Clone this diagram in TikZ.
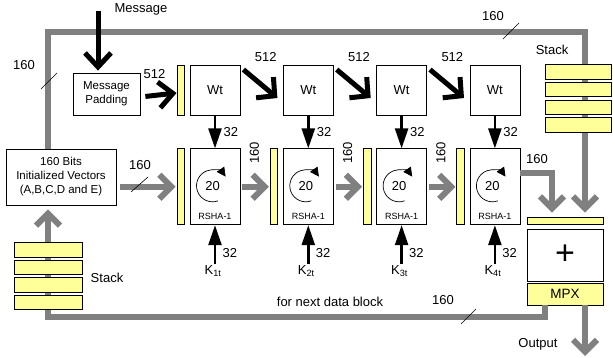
\documentclass[tikz,border=0pt]{standalone}
\usepackage{fontspec}
\setmainfont{Liberation Sans}
\usetikzlibrary{positioning, arrows.meta, calc}
\definecolor{padyellow}{HTML}{FFFF99}
\definecolor{busgray}{HTML}{808080}

\begin{document}
\begin{tikzpicture}[
  x=1pt, y=1pt,
  font=\fontsize{13}{15}\selectfont,
  box/.style={draw, line width=0.8pt, fill=white, minimum width=50pt, minimum height=50pt, inner sep=0pt},
  rsha/.style={box, minimum height=76pt},
  ybar/.style={draw, line width=0.8pt, fill=padyellow, minimum width=7.5pt, minimum height=76pt, inner sep=0pt},
  slot/.style={draw, line width=0.8pt, fill=padyellow, minimum height=14.5pt, inner sep=0pt},
  bus/.style={draw=busgray, line width=6pt},
  busarrow/.style={bus, -{Straight Barb[sharp, length=12pt, width=24pt]}},
  fat/.style={line width=5pt, -{Straight Barb[sharp, length=14pt, width=26pt]}},
  fatdiag/.style={line width=5pt, -{Straight Barb[sharp, length=13pt, width=27pt]}},
  thin/.style={line width=2.5pt, -{Triangle[length=20pt, width=13pt]}},
  tick/.style={line width=0.6pt}
]
\useasboundingbox (0,0) rectangle (613,-358);

% --- padding and the four Wt boxes ---
\node[box, minimum width=67pt, minimum height=42pt, align=center, font=\fontsize{11.5}{14}\selectfont] (pad) at (106.5,-94) {Message\\Padding};
\node[box] (wt1) at (215,-90) {Wt};
\node[box, right=42.5pt of wt1] (wt2) {Wt};
\node[box, right=42.5pt of wt2] (wt3) {Wt};
\node[box, right=42.5pt of wt3] (wt4) {Wt};
\node[ybar, minimum height=50pt, left=4.75pt of wt1] (bar0) {};

% --- RSHA-1 rounds, each with its yellow register ---
\node[rsha, below=33pt of wt1] (r1) {};
\node[rsha, below=33pt of wt2] (r2) {};
\node[rsha, below=33pt of wt3] (r3) {};
\node[rsha, below=33pt of wt4] (r4) {};
\node[ybar, left=4.75pt of r1] (rb1) {};
\node[ybar, left=4.75pt of r2] (rb2) {};
\node[ybar, left=4.75pt of r3] (rb3) {};
\node[ybar, left=4.75pt of r4] (rb4) {};

% --- init vectors, adder and MPX ---
\node[box, minimum width=110pt, minimum height=56pt, align=center, font=\fontsize{11.5}{14}\selectfont] (init) at (61,-177) {160 Bits\\Initialized Vectors\\(A,B,C,D and E)};
\node[ybar, minimum width=76pt, minimum height=7pt] (sumbar) at (565,-220.5) {};
\node[box, minimum width=76pt, minimum height=52pt, font=\fontsize{34}{34}\selectfont] (add) at (565,-255) {+};
\node[ybar, minimum width=76pt, minimum height=22pt, font=\fontsize{13.5}{15}\selectfont] (mpx) at (565,-294) {MPX};

% gray 160-bit buses
\coordinate (topL) at (48,-32);
\coordinate (topR) at (585,-32);
\coordinate (botL) at (48,-317);
\coordinate (outE) at (585,-356);
\draw[busarrow, shorten >=4pt] (topL |- init.north) -- (topL) -- (topR) -- (topR |- sumbar.north);
\draw[busarrow, shorten >=4pt] ([xshift=-20pt]mpx.south) |- (botL) -- (botL |- init.south);
\draw[busarrow] (outE |- mpx.south) -- (outE);
\draw[busarrow, shorten <=4pt, shorten >=1pt] (init.east |- rb1.west) -- (rb1.west);
\draw[busarrow, shorten <=2pt, shorten >=1pt] (r1.east) -- (rb2.west);
\draw[busarrow, shorten <=2pt, shorten >=1pt] (r2.east) -- (rb3.west);
\draw[busarrow, shorten <=2pt, shorten >=1pt] (r3.east) -- (rb4.west);
\draw[busarrow, shorten >=4pt] ([yshift=14pt]r4.east) -| ([xshift=-13pt]sumbar.north);

% stacks sit on top of the buses
\node[slot, minimum width=68pt] (ls1) at (48,-250) {};
\node[slot, minimum width=68pt, below=2.2pt of ls1] (ls2) {};
\node[slot, minimum width=68pt, below=2.2pt of ls2] (ls3) {};
\node[slot, minimum width=68pt, below=2.2pt of ls3] (ls4) {};
\node[slot, minimum width=66pt] (rs1) at (578,-72) {};
\node[slot, minimum width=66pt, below=2.3pt of rs1] (rs2) {};
\node[slot, minimum width=66pt, below=2.3pt of rs2] (rs3) {};
\node[slot, minimum width=66pt, below=2.3pt of rs3] (rs4) {};
\node (lstack) at (107,-278) {Stack};
\node (rstack) at (552,-50) {Stack};

% message in, 512-bit words
\node (msg) at (141,-9) {Message};
\coordinate (msgin) at (98,-11);
\draw[fat, shorten >=2pt] (msgin) -- (msgin |- pad.north);
\draw[fat, shorten <=5pt] ([yshift=-3pt]pad.east) -- ([yshift=-3pt]bar0.west) node[midway, above=11pt, xshift=-4pt] {512};
\draw[fatdiag] ([shift={(3pt,-5pt)}]wt1.north east) -- ([shift={(-5.5pt,-8pt)}]wt2.west) node[pos=0, anchor=south west, inner sep=1pt, xshift=8pt, yshift=4pt] {512};
\draw[fatdiag] ([shift={(3pt,-5pt)}]wt2.north east) -- ([shift={(-5.5pt,-8pt)}]wt3.west) node[pos=0, anchor=south west, inner sep=1pt, xshift=8pt, yshift=4pt] {512};
\draw[fatdiag] ([shift={(3pt,-5pt)}]wt3.north east) -- ([shift={(-5.5pt,-8pt)}]wt4.west) node[pos=0, anchor=south west, inner sep=1pt, xshift=8pt, yshift=4pt] {512};

% inside each round: 20 steps, Wt and K inputs
\foreach \i in {1,...,4} {
  \node (c\i) at ([shift={(-2.5pt,1pt)}]r\i.center) {20};
  \draw[line width=0.7pt, -{Triangle[length=9pt, width=9pt]}] (c\i.center) ++(290:16pt) arc[start angle=290, end angle=35, radius=16pt];
  \node[above=2pt, font=\fontsize{9}{10}\selectfont] (t\i) at (r\i.south) {RSHA-1};
  \draw[thin] (wt\i.south) -- (r\i.north) node[midway, right=4pt] {32};
  \node[inner sep=1pt] (k\i) at ($(r\i.south)+(-2pt,-46pt)$) {K\textsubscript{\i t}};
  \draw[thin] (k\i.north -| r\i.south) -- (r\i.south) node[pos=0.3, right=3pt] {32};
}
\node[rotate=90] (w1) at ($(r1.east)+(14pt,34pt)$) {160};
\node[rotate=90] (w2) at ($(r2.east)+(14pt,34pt)$) {160};
\node[rotate=90] (w3) at ($(r3.east)+(14pt,34pt)$) {160};
\node (w4) at (537,-159) {160};

% bus width marks
\draw[tick] (41,-89) -- (57,-73);
\node (b1) at (24,-65) {160};
\draw[tick] (503,-39) -- (519,-23);
\node (b2) at (493,-16) {160};
\draw[tick] (131,-192) -- (148,-177);
\node (b3) at (140,-165) {160};
\draw[tick] (461,-324) -- (476,-309);
\node (b4) at (443,-300) {160};

\node (next) at (330,-302) {for next data block};
\node (out) at (538,-344) {Output};
\end{tikzpicture}
\end{document}
